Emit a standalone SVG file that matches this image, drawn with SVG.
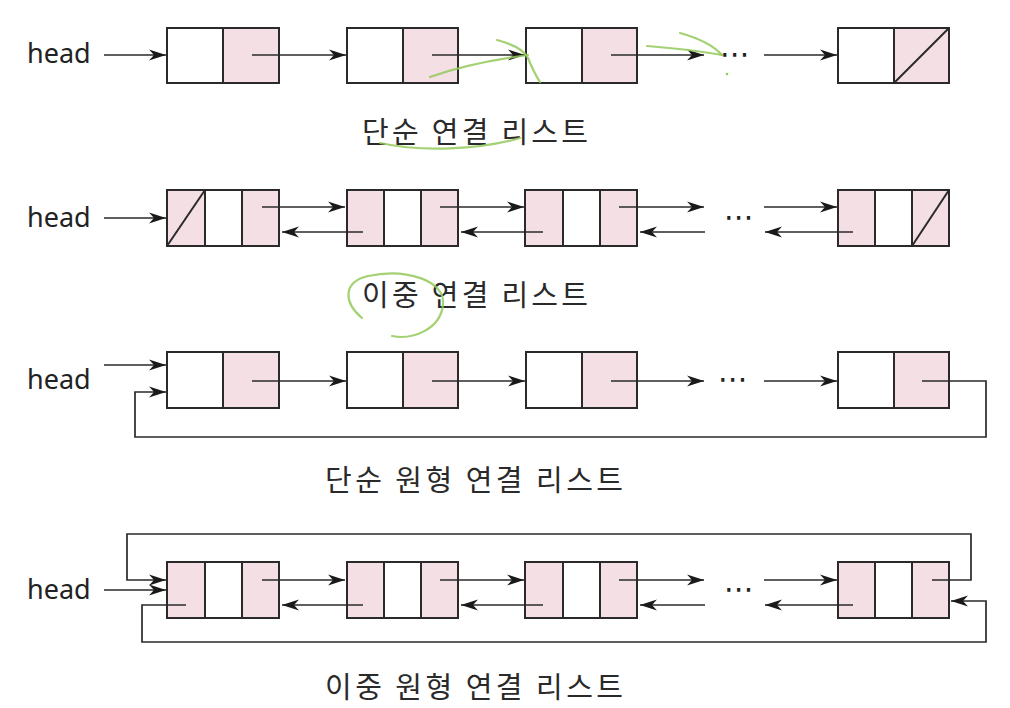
<svg xmlns="http://www.w3.org/2000/svg" width="1010" height="708" viewBox="0 0 1010 708">
<style>
.box{fill:none;stroke:#2a2a2a;stroke-width:2}
.pink{fill:#f3dfe4;stroke:none}
.div{stroke:#2a2a2a;stroke-width:2}
.con{fill:none;stroke:#2a2a2a;stroke-width:1.7}
.arr{marker-end:url(#ah)}
.head{font-family:"Noto Sans","DejaVu Sans",sans-serif;font-size:27px;fill:#222}
.lbl{font-family:"Noto Sans CJK KR","Noto Sans",sans-serif;font-size:29px;fill:#2a2a2a}
.dots{font-family:"DejaVu Sans",sans-serif;font-size:30px;fill:#222}
.green{fill:none;stroke:#93c95a;stroke-width:2.2;stroke-linecap:round;opacity:0.85}
</style>
<defs>
<marker id="ah" markerUnits="userSpaceOnUse" markerWidth="18" markerHeight="12" refX="17" refY="5.5" orient="auto" viewBox="0 0 18 11">
<path d="M0,0 L17,5.5 L0,11 L5,5.5 Z" fill="#1a1a1a"/>
</marker>
</defs>
<rect width="1010" height="708" fill="#ffffff"/>

<!-- Row 1: singly linked list -->
<g id="r1-head"><text class="head" x="27" y="63">head</text></g>
<g id="r1-n1"><rect class="pink" x="223" y="28" width="56" height="55"/><rect class="box" x="167" y="28" width="112" height="55"/><line class="div" x1="223" y1="28" x2="223" y2="83"/></g>
<g id="r1-n2"><rect class="pink" x="403" y="28" width="55" height="55"/><rect class="box" x="347" y="28" width="111" height="55"/><line class="div" x1="403" y1="28" x2="403" y2="83"/></g>
<g id="r1-n3"><rect class="pink" x="582" y="28" width="55" height="55"/><rect class="box" x="526" y="28" width="111" height="55"/><line class="div" x1="582" y1="28" x2="582" y2="83"/></g>
<g id="r1-n4"><rect class="pink" x="894" y="28" width="55" height="55"/><rect class="box" x="838" y="28" width="111" height="55"/><line class="div" x1="894" y1="28" x2="894" y2="83"/><line class="div" x1="894" y1="83" x2="949" y2="28"/></g>
<g id="r1-dots"><text class="dots" x="720" y="64">⋯</text></g>
<g id="r1-label"><text class="lbl" x="362" y="143" textLength="226" lengthAdjust="spacing">단순 연결 리스트</text></g>

<!-- Row 2: doubly linked list -->
<g id="r2-head"><text class="head" x="27" y="227">head</text></g>
<g id="r2-n1"><rect class="pink" x="167" y="190" width="38" height="56"/><rect class="pink" x="242" y="190" width="37" height="56"/><rect class="box" x="167" y="190" width="112" height="56"/><line class="div" x1="205" y1="190" x2="205" y2="246"/><line class="div" x1="242" y1="190" x2="242" y2="246"/><line class="div" x1="167" y1="246" x2="205" y2="190"/></g>
<g id="r2-n2"><rect class="pink" x="347" y="190" width="37" height="56"/><rect class="pink" x="421" y="190" width="37" height="56"/><rect class="box" x="347" y="190" width="111" height="56"/><line class="div" x1="384" y1="190" x2="384" y2="246"/><line class="div" x1="421" y1="190" x2="421" y2="246"/></g>
<g id="r2-n3"><rect class="pink" x="525" y="190" width="38" height="56"/><rect class="pink" x="600" y="190" width="37" height="56"/><rect class="box" x="525" y="190" width="112" height="56"/><line class="div" x1="563" y1="190" x2="563" y2="246"/><line class="div" x1="600" y1="190" x2="600" y2="246"/></g>
<g id="r2-n4"><rect class="pink" x="838" y="190" width="37" height="56"/><rect class="pink" x="912" y="190" width="37" height="56"/><rect class="box" x="838" y="190" width="111" height="56"/><line class="div" x1="875" y1="190" x2="875" y2="246"/><line class="div" x1="912" y1="190" x2="912" y2="246"/><line class="div" x1="912" y1="246" x2="949" y2="190"/></g>
<g id="r2-dots"><text class="dots" x="724" y="227">⋯</text></g>
<g id="r2-label"><text class="lbl" x="362" y="306" textLength="226" lengthAdjust="spacing">이중 연결 리스트</text></g>

<!-- Row 3: singly circular list -->
<g id="r3-head"><text class="head" x="27" y="389">head</text></g>
<g id="r3-n1"><rect class="pink" x="223" y="352" width="56" height="56"/><rect class="box" x="167" y="352" width="112" height="56"/><line class="div" x1="223" y1="352" x2="223" y2="408"/></g>
<g id="r3-n2"><rect class="pink" x="403" y="352" width="55" height="56"/><rect class="box" x="347" y="352" width="111" height="56"/><line class="div" x1="403" y1="352" x2="403" y2="408"/></g>
<g id="r3-n3"><rect class="pink" x="582" y="352" width="55" height="56"/><rect class="box" x="526" y="352" width="111" height="56"/><line class="div" x1="582" y1="352" x2="582" y2="408"/></g>
<g id="r3-n4"><rect class="pink" x="894" y="352" width="55" height="56"/><rect class="box" x="838" y="352" width="111" height="56"/><line class="div" x1="894" y1="352" x2="894" y2="408"/></g>
<g id="r3-dots"><text class="dots" x="718" y="389">⋯</text></g>
<g id="r3-label"><text class="lbl" x="325" y="491" textLength="298" lengthAdjust="spacing">단순 원형 연결 리스트</text></g>

<!-- Row 4: doubly circular list -->
<g id="r4-head"><text class="head" x="27" y="599">head</text></g>
<g id="r4-n1"><rect class="pink" x="167" y="562" width="38" height="56"/><rect class="pink" x="242" y="562" width="37" height="56"/><rect class="box" x="167" y="562" width="112" height="56"/><line class="div" x1="205" y1="562" x2="205" y2="618"/><line class="div" x1="242" y1="562" x2="242" y2="618"/></g>
<g id="r4-n2"><rect class="pink" x="347" y="562" width="37" height="56"/><rect class="pink" x="421" y="562" width="37" height="56"/><rect class="box" x="347" y="562" width="111" height="56"/><line class="div" x1="384" y1="562" x2="384" y2="618"/><line class="div" x1="421" y1="562" x2="421" y2="618"/></g>
<g id="r4-n3"><rect class="pink" x="525" y="562" width="38" height="56"/><rect class="pink" x="600" y="562" width="37" height="56"/><rect class="box" x="525" y="562" width="112" height="56"/><line class="div" x1="563" y1="562" x2="563" y2="618"/><line class="div" x1="600" y1="562" x2="600" y2="618"/></g>
<g id="r4-n4"><rect class="pink" x="838" y="562" width="37" height="56"/><rect class="pink" x="912" y="562" width="37" height="56"/><rect class="box" x="838" y="562" width="111" height="56"/><line class="div" x1="875" y1="562" x2="875" y2="618"/><line class="div" x1="912" y1="562" x2="912" y2="618"/></g>
<g id="r4-dots"><text class="dots" x="724" y="599">⋯</text></g>
<g id="r4-label"><text class="lbl" x="325" y="698" textLength="298" lengthAdjust="spacing">이중 원형 연결 리스트</text></g>

<!-- Connectors -->
<g id="connectors">
<!-- row 1 -->
<line class="con arr" x1="104" y1="55" x2="166" y2="55"/>
<line class="con arr" x1="252" y1="55" x2="346" y2="55"/>
<line class="con arr" x1="432" y1="55" x2="525" y2="55"/>
<line class="con arr" x1="611" y1="55" x2="704" y2="55"/>
<line class="con arr" x1="764" y1="55" x2="837" y2="55"/>
<!-- row 2 -->
<line class="con arr" x1="104" y1="218" x2="166" y2="218"/>
<line class="con arr" x1="262" y1="207" x2="345" y2="207"/>
<line class="con arr" x1="363" y1="232" x2="282" y2="232"/>
<line class="con arr" x1="440" y1="207" x2="524" y2="207"/>
<line class="con arr" x1="543" y1="232" x2="461" y2="232"/>
<line class="con arr" x1="619" y1="207" x2="704" y2="207"/>
<line class="con arr" x1="705" y1="232" x2="640" y2="232"/>
<line class="con arr" x1="764" y1="207" x2="837" y2="207"/>
<line class="con arr" x1="853" y1="232" x2="765" y2="232"/>
<!-- row 3 -->
<line class="con arr" x1="104" y1="365" x2="166" y2="365"/>
<path class="con arr" d="M922,381 H986 V437 H135 V392 H166"/>
<line class="con arr" x1="252" y1="381" x2="346" y2="381"/>
<line class="con arr" x1="432" y1="381" x2="525" y2="381"/>
<line class="con arr" x1="611" y1="381" x2="704" y2="381"/>
<line class="con arr" x1="764" y1="381" x2="837" y2="381"/>
<!-- row 4 -->
<line class="con arr" x1="104" y1="590" x2="166" y2="590"/>
<path class="con arr" d="M932,580 H971 V534 H127 V580 H166"/>
<path class="con arr" d="M186,605 H142 V642 H986 V601 H951"/>
<line class="con arr" x1="262" y1="580" x2="345" y2="580"/>
<line class="con arr" x1="363" y1="605" x2="282" y2="605"/>
<line class="con arr" x1="440" y1="580" x2="524" y2="580"/>
<line class="con arr" x1="543" y1="605" x2="461" y2="605"/>
<line class="con arr" x1="619" y1="580" x2="704" y2="580"/>
<line class="con arr" x1="705" y1="605" x2="640" y2="605"/>
<line class="con arr" x1="764" y1="580" x2="837" y2="580"/>
<line class="con arr" x1="853" y1="605" x2="765" y2="605"/>
</g>

<!-- handwritten green annotations -->
<g id="annotations">
<path class="green" d="M430,77 C455,68 490,60 528,55"/>
<path class="green" d="M497,40 C512,44 524,50 528,58 C532,68 536,76 540,82"/>
<path class="green" d="M647,46 C672,48 700,51 722,55"/>
<path class="green" d="M680,33 C698,38 713,45 722,55"/>
<circle cx="727" cy="74" r="1.3" fill="#93c95a"/>
<path class="green" d="M380,143 C420,152 480,150 520,138"/>
<path class="green" d="M362,318 C343,302 343,282 368,276 C405,268 446,280 443,305 C440,330 412,340 392,336"/>
</g>
</svg>
